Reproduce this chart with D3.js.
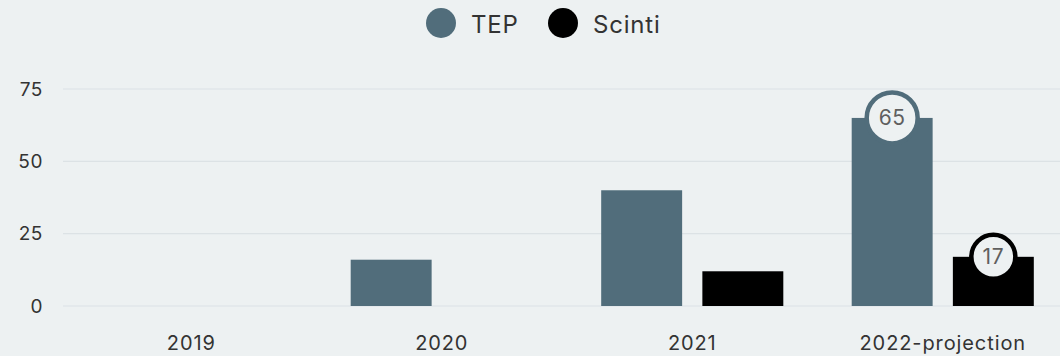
<!DOCTYPE html>
<html>
<head>
<meta charset="utf-8">
<script src="https://cdn.jsdelivr.net/npm/d3@7"></script>
<style>
  html, body { margin: 0; padding: 0; background: #edf1f2; }
  svg { display: block; font-family: "Inter", "Lato", sans-serif; }
</style>
</head>
<body>
<svg id="chart" width="1060" height="356"></svg>
<script>
// Yearly counts per modality
const years = ["2019", "2020", "2021", "2022-projection"];
const seriesNames = ["TEP", "Scinti"];
const tepValues = [0, 16, 40, 65];
const scintiValues = [0, 0, 12, 17];
const yTicks = [0, 25, 50, 75];
// Only the projection year carries value badges
const labelledYears = ["2022-projection"];

const colors = { TEP: "#516d7b", Scinti: "#000000" };
const bg = "#edf1f2";

const svg = d3.select("#chart");
const W = 1060;

const x0 = d3.scaleBand().domain(years).range([66, 1068]).paddingInner(0.273).paddingOuter(0.1365);
const x1 = d3.scaleBand().domain(seriesNames).range([0, x0.bandwidth()]).paddingInner(0.2);
const y = d3.scaleLinear().domain([0, 75]).range([306, 89]);

// grid lines
svg.append("g").selectAll("line").data(yTicks).join("line")
  .attr("x1", 63).attr("x2", W)
  .attr("y1", d => y(d)).attr("y2", d => y(d))
  .attr("stroke", "#dce2e5").attr("stroke-width", 1.2);

// y axis labels
const yAxis = svg.append("g").attr("transform", "translate(43,0)")
  .call(d3.axisLeft(y).tickValues(yTicks).tickSize(0).tickPadding(0));
yAxis.select(".domain").remove();
yAxis.selectAll("text").attr("font-size", 19).attr("fill", "#333")
  .attr("letter-spacing", 0.6).attr("font-family", "Inter, Lato, sans-serif");

// x axis labels
const xAxis = svg.append("g").attr("transform", "translate(0,333)")
  .call(d3.axisBottom(x0).tickSize(0).tickPadding(0));
xAxis.select(".domain").remove();
xAxis.selectAll("text").attr("font-size", 20).attr("fill", "#333").attr("dy", "0.85em")
  .attr("letter-spacing", 0.9).attr("font-family", "Inter, Lato, sans-serif");

const rows = years.map((yr, i) => ({ year: yr, TEP: tepValues[i], Scinti: scintiValues[i] }));

const groups = svg.append("g").selectAll("g").data(rows).join("g")
  .attr("transform", d => `translate(${x0(d.year)},0)`);

groups.selectAll("rect").data(d => seriesNames.map(s => ({ s, v: d[s], year: d.year })))
  .join("rect")
  .attr("x", d => x1(d.s))
  .attr("width", x1.bandwidth())
  .attr("y", d => y(d.v))
  .attr("height", d => y(0) - y(d.v))
  .attr("fill", d => colors[d.s]);

// value badges
const badges = groups.selectAll("g.badge")
  .data(d => labelledYears.includes(d.year) ? seriesNames.map(s => ({ s, v: d[s] })) : [])
  .join("g").attr("class", "badge")
  .attr("transform", d => `translate(${x1(d.s) + x1.bandwidth() / 2},${y(d.v)})`);
badges.append("circle")
  .attr("r", d => d.s === "TEP" ? 25.5 : 22)
  .attr("fill", bg)
  .attr("stroke", d => colors[d.s])
  .attr("stroke-width", 4.5);
badges.append("text")
  .attr("text-anchor", "middle").attr("dy", "0.36em")
  .attr("font-size", 21).attr("fill", "#5f5f5f").attr("letter-spacing", 0.5)
  .text(d => d.v);

// legend
const legend = svg.append("g");
const legendPos = [{ s: "TEP", cx: 441, tx: 471 }, { s: "Scinti", cx: 563, tx: 593 }];
legendPos.forEach(p => {
  legend.append("circle").attr("cx", p.cx).attr("cy", 23).attr("r", 15).attr("fill", colors[p.s]);
  legend.append("text").attr("x", p.tx).attr("y", 24).attr("dy", "0.36em")
    .attr("font-size", 24).attr("letter-spacing", 0.8).attr("fill", "#333").text(p.s);
});
</script>
</body>
</html>
